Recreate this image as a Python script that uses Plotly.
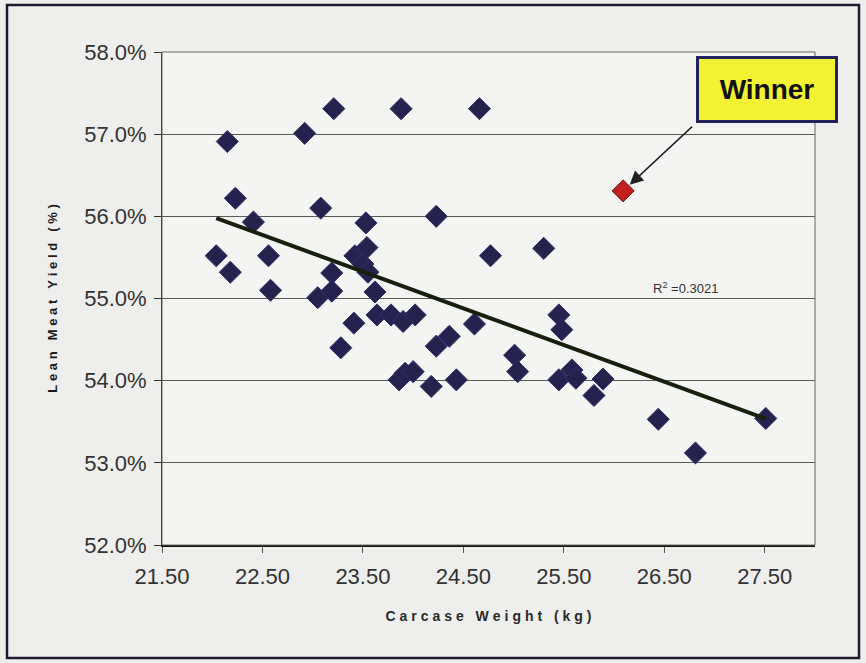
import numpy as np
import plotly.graph_objects as go

# ---- data ----
carcase_weight = [22.04, 22.15, 22.18, 22.23, 22.41, 22.56, 22.58, 22.92, 23.05, 23.08,
                  23.19, 23.19, 23.21, 23.28, 23.41, 23.42, 23.53, 23.54, 23.50, 23.55,
                  23.62, 23.64, 23.78, 23.88, 23.90, 24.02, 23.86, 23.92, 24.00, 24.18,
                  24.23, 24.23, 24.36, 24.43, 24.61, 24.66, 24.77, 25.01, 25.04, 25.30,
                  25.45, 25.48, 25.45, 25.58, 25.62, 25.80, 25.89, 26.44, 26.81, 27.51]
lean_meat_yield = [55.52, 56.91, 55.32, 56.22, 55.93, 55.52, 55.10, 57.01, 55.01, 56.10,
                   55.31, 55.09, 57.31, 54.40, 54.70, 55.52, 55.92, 55.62, 55.42, 55.32,
                   55.08, 54.80, 54.80, 57.31, 54.72, 54.80, 54.01, 54.09, 54.11, 53.93,
                   56.00, 54.42, 54.54, 54.01, 54.69, 57.31, 55.52, 54.31, 54.11, 55.61,
                   54.80, 54.62, 54.01, 54.13, 54.03, 53.82, 54.02, 53.53, 53.12, 53.54]
winner_weight = [26.09]
winner_yield = [56.31]

x_tick_vals = [21.5, 22.5, 23.5, 24.5, 25.5, 26.5, 27.5]
x_tick_text = ["21.50", "22.50", "23.50", "24.50", "25.50", "26.50", "27.50"]
y_tick_vals = [52, 53, 54, 55, 56, 57, 58]
y_tick_text = ["52.0%", "53.0%", "54.0%", "55.0%", "56.0%", "57.0%", "58.0%"]
x_title = "Carcase Weight (kg)"
y_title = "Lean Meat Yield (%)"
r2_label = "R<sup>2</sup> =0.3021"
callout_text = "Winner"

# ---- linear trendline (least squares on all points incl. the winner) ----
xs = np.array(carcase_weight + winner_weight)
ys = np.array(lean_meat_yield + winner_yield)
slope, intercept = np.polyfit(xs, ys, 1)
trend_x = np.array([xs.min(), xs.max()])
trend_y = slope * trend_x + intercept

W, H = 866, 663
L, R, T, B = 162, 51, 52, 118
pw, ph = W - L - R, H - T - B

def px(xp):
    return (xp - L) / pw

def py(yp):
    return (H - B - yp) / ph

def spaced(s):
    # widen letter spacing with thin + hair spaces
    return "\u2009\u200a".join(list(s))

main_font = "Liberation Sans, Arial, sans-serif"

fig = go.Figure()
fig.add_trace(go.Scatter(
    x=carcase_weight, y=lean_meat_yield, mode="markers",
    marker=dict(symbol="diamond", size=17, color="#25234e",
                line=dict(color="#30306e", width=1)),
    showlegend=False, hoverinfo="x+y"))
fig.add_trace(go.Scatter(
    x=trend_x, y=trend_y, mode="lines",
    line=dict(color="#17200d", width=4), showlegend=False, hoverinfo="skip"))
fig.add_trace(go.Scatter(
    x=winner_weight, y=winner_yield, mode="markers",
    marker=dict(symbol="diamond", size=17, color="#c2201c",
                line=dict(color="#6a1a1a", width=1)),
    showlegend=False))

fig.update_layout(
    width=W, height=H,
    margin=dict(l=L, r=R, t=T, b=B, pad=0),
    paper_bgcolor="#eeeeec",
    plot_bgcolor="#f4f4f2",
    showlegend=False,
    xaxis=dict(
        range=[21.5, 28.0], tickvals=x_tick_vals, ticktext=x_tick_text,
        showgrid=False, zeroline=False,
        showline=True, linecolor="#111111", linewidth=2,
        ticks="outside", ticklen=6, tickcolor="#555555", tickwidth=1,
        ticklabelstandoff=5,
        tickfont=dict(family=main_font, size=22, color="#333333"),
        title=dict(text="<b>" + spaced(x_title) + "</b>",
                   font=dict(family=main_font, size=14, color="#2a2a2a"),
                   standoff=23),
    ),
    yaxis=dict(
        range=[52, 58], tickvals=y_tick_vals, ticktext=y_tick_text,
        showgrid=True, gridcolor="#5a5a55", gridwidth=1, zeroline=False,
        showline=True, linecolor="#222222", linewidth=1,
        ticks="outside", ticklen=7, tickcolor="#333333", tickwidth=1,
        ticklabelstandoff=3,
        tickfont=dict(family=main_font, size=22, color="#333333"),
        title=dict(text="<b>" + spaced(y_title) + "</b>",
                   font=dict(family=main_font, size=13, color="#1a1a1a"),
                   standoff=23),
    ),
)

# plot border (top/right) in grey
fig.add_shape(type="rect", xref="paper", yref="paper", x0=0, y0=0, x1=1, y1=1,
              line=dict(color="#666660", width=1), layer="above")
# outer frame of the chart
fig.add_shape(type="rect", xref="paper", yref="paper",
              x0=px(7), x1=px(859), y0=py(658), y1=py(5),
              line=dict(color="#1c1c30", width=2.5))

# R^2 label
fig.add_annotation(x=px(651), y=py(288), xref="paper", yref="paper",
                   text=r2_label, showarrow=False, xanchor="left", yanchor="middle",
                   font=dict(family=main_font, size=13, color="#333333"))

# Winner callout with arrow (tail offset in pixels from the winner point)
fig.add_annotation(x=winner_weight[0], y=winner_yield[0], xref="x", yref="y",
                   ax=72, ay=-67,
                   text=" ", showarrow=True, arrowhead=2, arrowsize=1.8, arrowwidth=1.5,
                   arrowcolor="#222222", standoff=9)
fig.add_annotation(x=px(767), y=py(89), xref="paper", yref="paper",
                   text="<b>" + callout_text + "</b>", showarrow=False,
                   xanchor="center", yanchor="middle",
                   width=134, height=59,
                   bgcolor="#f2f232", bordercolor="#232360", borderwidth=3,
                   font=dict(family=main_font, size=28, color="#111111"))

fig.write_html("out.html",
               config={"displayModeBar": False},
               post_script="document.body.style.margin='0px';document.body.style.overflow='hidden';")
